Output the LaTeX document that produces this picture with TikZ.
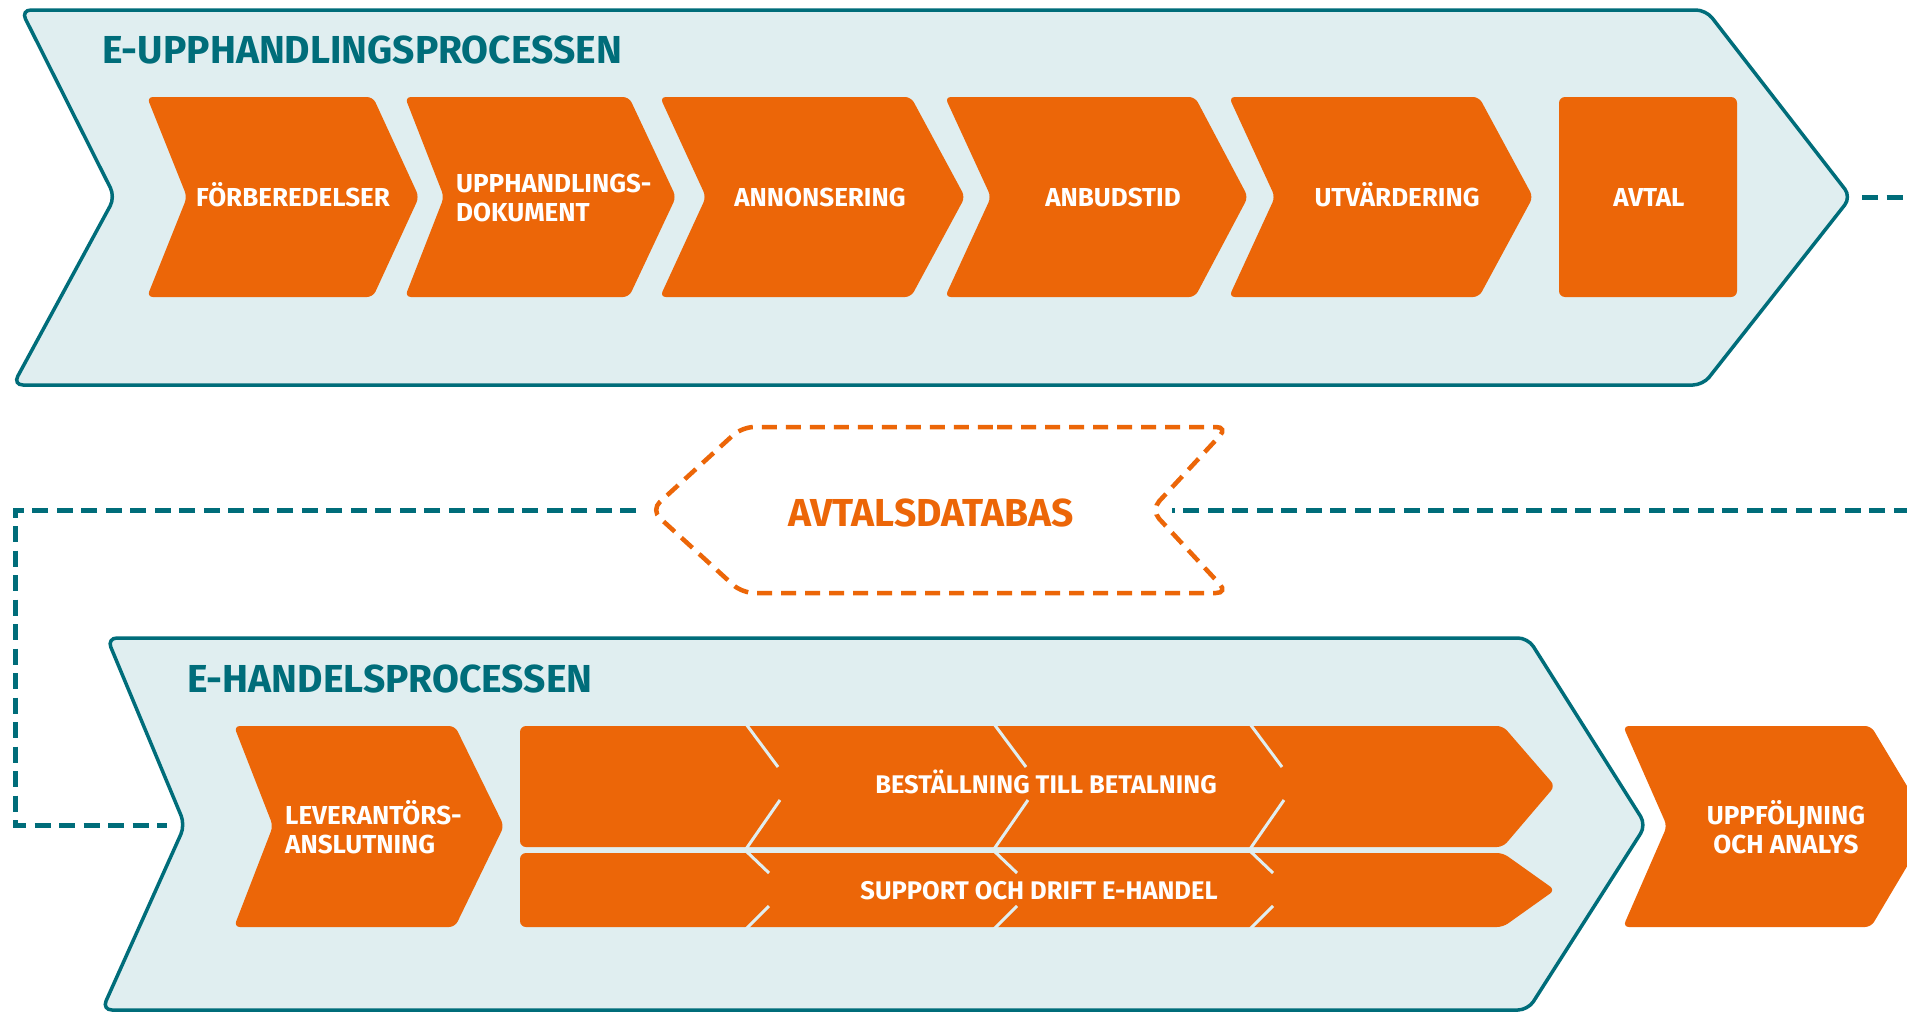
\documentclass[tikz,border=0pt]{standalone}
\usepackage{fontspec}
\setmainfont{Fira Sans}
\usetikzlibrary{positioning}

\definecolor{eorange}{RGB}{236,102,8}
\definecolor{eteal}{RGB}{0,109,122}
\definecolor{elight}{RGB}{224,238,240}

\tikzset{
  outer/.style={draw=eteal, fill=elight, line width=3.5pt, rounded corners=10pt},
  stepshape/.style={fill=eorange, rounded corners=6pt},
  boxtext/.style={text=white, font=\bfseries\fontsize{26}{29}\selectfont, inner sep=0pt},
  bandtext/.style={text=white, font=\bfseries\fontsize{25.5}{28}\selectfont, inner sep=0pt, anchor=base},
  title/.style={text=eteal, font=\bfseries\fontsize{39}{42}\selectfont, anchor=base west, inner sep=0pt},
  conn/.style={draw=eteal, line width=5pt, dash pattern=on 16pt off 8.5pt},
  dbline/.style={draw=eorange, line width=4.5pt, dash pattern=on 15pt off 9pt, rounded corners=12pt},
  sep/.style={draw=elight, line width=3pt},
}

\begin{document}
\begin{tikzpicture}[x=1pt,y=-1pt]
  \path[use as bounding box, clip] (0,0) rectangle (1907,1012);
  \fill[white] (0,0) rectangle (1907,1012);

  % e-upphandling
  \path[outer] (800,10) -- (1706,10) -- (1851,197) -- (1703,385) -- (13,385) -- (115,197) -- (21,10) -- cycle;
  \coordinate (upptip) at (1851,197);
  \node[title] (upptitle) at (102,63) {E-UPPHANDLINGSPROCESSEN};
  \foreach \l/\n/\r/\t in {147/187/373/419, 405/444/629/676, 660/706/911/965, 945/991/1195/1248, 1229/1275/1479/1533} {
    \path[stepshape] (\r-20,97) -- (\r,97) -- (\t,197) -- (\r,297) -- (\l,297) -- (\n,197) -- (\l,97) -- cycle;
  }
  \path[stepshape] (1559,97) rectangle (1737,297);
  \node[boxtext, anchor=base] (forb) at (293,206) {FÖRBEREDELSER};
  \node[boxtext, anchor=west, align=left] (updok) at (456,198) {UPPHANDLINGS-\\DOKUMENT};
  \node[boxtext, anchor=base] (ann) at (820,206) {ANNONSERING};
  \node[boxtext, anchor=base] (anb) at (1113,206) {ANBUDSTID};
  \node[boxtext, anchor=base] (utv) at (1397,206) {UTVÄRDERING};
  \node[boxtext, anchor=base] (avtal) at (1649,206) {AVTAL};

  % avtalsdatabas
  \path[dbline] (985,427) -- (1228,427) -- (1151,510) -- (1228,593) -- (742,593) -- (651,510) -- (742,427) -- cycle;
  \coordinate (dbtip) at (651,510);
  \coordinate (dbnotch) at (1151,510);
  \node[text=eorange, font=\bfseries\fontsize{39}{44}\selectfont, inner sep=0pt] (db) at (931,513) {AVTALSDATABAS};

  % e-handel
  \path[outer] (800,638) -- (1528,638) -- (1646,825) -- (1528,1010) -- (102,1010) -- (185,825) -- (107,638) -- cycle;
  \coordinate (handnotch) at (185,825);
  \node[title] (handtitle) at (187,692) {E-HANDELSPROCESSEN};
  \path[stepshape] (300,726) -- (455,726) -- (504,826) -- (455,927) -- (234,927) -- (273,826) -- (234,726) -- cycle;
  \path[stepshape] (900,726) -- (1503,726) -- (1555,786) -- (1503,847) -- (520,847) -- (520,726) -- cycle;
  \path[stepshape] (900,853) -- (1503,853) -- (1555,890) -- (1503,927) -- (520,927) -- (520,853) -- cycle;
  \foreach \x in {746,994,1250} {
    \draw[sep] (\x,724) -- (\x+32,767);
    \draw[sep] (\x+34,800) -- (\x,849);
    \draw[sep] (\x,851) -- (\x+23,873);
    \draw[sep] (\x+23,906) -- (\x,929);
  }
  \path[stepshape] (1700,726) -- (1871,726) -- (1931,826) -- (1871,927) -- (1623,927) -- (1667,826) -- (1623,726) -- cycle;
  \node[boxtext, anchor=west, align=left] (lev) at (285,827) {LEVERANTÖRS-\\ANSLUTNING};
  \node[bandtext] (best) at (1046,793) {BESTÄLLNING TILL BETALNING};
  \node[bandtext] (supp) at (1039,899) {SUPPORT OCH DRIFT E-HANDEL};
  \node[boxtext, align=center] (uppf) at (1786,827) {UPPFÖLJNING\\OCH ANALYS};

  % kopplingar
  \draw[conn] ([xshift=11pt]upptip) -- ++(100,0) |- ([xshift=21pt]dbnotch);
  \draw[conn] ([xshift=-15pt]dbtip) -| (15,825) -- ([xshift=-18pt]handnotch);
\end{tikzpicture}
\end{document}
